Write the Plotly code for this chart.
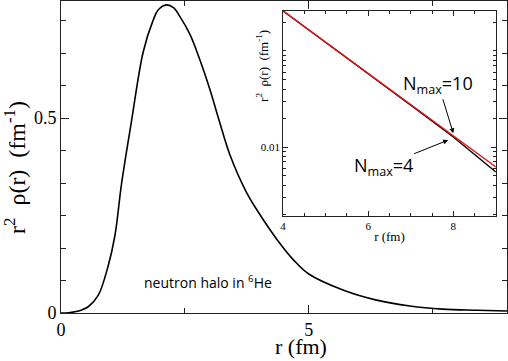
import numpy as np
import plotly.graph_objects as go

# ── main curve: r^2 rho(r) of the neutron halo ──────────────
r_main = [0.0, 0.15, 0.28, 0.42, 0.55, 0.75, 0.95, 1.09, 1.22, 1.42, 1.66, 1.86,
          1.96, 2.13, 2.27, 2.4, 2.6, 2.8, 3.0, 3.2, 3.41, 3.74, 4.0, 4.35, 4.7,
          5.0, 5.69, 6.37, 7.04, 7.7, 8.4, 9.0]
rho_main = [0.0, 0.0005, 0.003, 0.008, 0.016, 0.045, 0.12, 0.2, 0.33, 0.49,
            0.67, 0.751, 0.777, 0.79, 0.783, 0.76, 0.715, 0.65, 0.575, 0.49,
            0.405, 0.31, 0.255, 0.19, 0.135, 0.10, 0.059, 0.033, 0.018, 0.010,
            0.007, 0.005]

# ── inset: tail on log scale for two Nmax ───────────────────
r_tail = [4, 5, 6, 7, 8, 9]
rho_n10 = [0.2607, 0.1235, 0.0584, 0.0276, 0.0131, 0.00619]
rho_n4 = [0.2607, 0.1235, 0.0584, 0.0272, 0.0127, 0.00549]

serif = "Liberation Serif"
sans = "Open Sans"
nb = "\u00a0"
ytitle = f"r<sup>2</sup>{nb}{nb}ρ(r){nb}{nb}(fm<sup>-1</sup>)"

fig = go.Figure()
fig.add_trace(go.Scatter(x=r_main, y=rho_main, mode="lines", line_shape="spline",
                         line=dict(color="black", width=1.6), xaxis="x", yaxis="y"))
fig.add_trace(go.Scatter(x=r_tail, y=rho_n4, mode="lines",
                         line=dict(color="black", width=1.4), xaxis="x2", yaxis="y2"))
fig.add_trace(go.Scatter(x=r_tail, y=rho_n10, mode="lines",
                         line=dict(color="#e8141a", width=1.4), xaxis="x2", yaxis="y2"))

ax_common = dict(showline=True, linecolor="#222", linewidth=1, mirror="allticks",
                 ticks="inside", tickcolor="#222", showgrid=False, zeroline=False,
                 automargin=False)

minor_log = [m * 10.0 ** e for e in (-3, -2, -1) for m in range(2, 11)]

fig.update_layout(
    width=508, height=361,
    margin=dict(l=61, r=1, t=1, b=48),
    paper_bgcolor="white", plot_bgcolor="white",
    showlegend=False,
    font=dict(family=serif, color="black"),
    xaxis=dict(ax_common, range=[0, 9], dtick=5, ticklen=8,
               minor=dict(dtick=2.5, ticklen=5, ticks="inside", tickcolor="#222"),
               tickfont=dict(size=18)),
    yaxis=dict(ax_common, range=[0, 0.8], tickvals=[0, 0.5], ticklen=8,
               minor=dict(dtick=0.5 / 6, ticklen=5, ticks="inside", tickcolor="#222"),
               tickfont=dict(size=18)),
    xaxis2=dict(ax_common, domain=[0.498, 0.975], anchor="y2", range=[4, 9],
                tickvals=[4, 6, 8], ticklen=5,
                minor=dict(dtick=0.5, ticklen=3, ticks="inside", tickcolor="#222"),
                tickfont=dict(size=11),
                title=dict(text="r (fm)", font=dict(size=13), standoff=0)),
    yaxis2=dict(ax_common, domain=[0.311, 0.968], anchor="x2", type="log",
                range=[-2.718, -0.584], tickvals=[0.01], ticktext=["0.01"],
                ticklen=5, minor=dict(tickvals=minor_log, ticklen=3, ticks="inside",
                                      tickcolor="#222"),
                tickfont=dict(size=11)),
)

# axis titles as annotations so they sit where the original has them
fig.add_annotation(x=-0.103, y=0.465, xref="paper", yref="paper", text=ytitle,
                   textangle=-90, showarrow=False, xanchor="center", yanchor="middle",
                   font=dict(size=24))
fig.add_annotation(x=0.538, y=-0.106, xref="paper", yref="paper", text="r (fm)",
                   showarrow=False, xanchor="center", yanchor="middle",
                   font=dict(size=22))
fig.add_annotation(x=0.4507, y=0.792, xref="paper", yref="paper", text=ytitle,
                   textangle=-90, showarrow=False, xanchor="center", yanchor="middle",
                   font=dict(size=13))

fig.add_annotation(x=2.96, y=0.08, xref="x", yref="y", showarrow=False,
                   text="neutron halo in <sup>6</sup>He",
                   font=dict(family=sans, size=14, color="black"))
fig.add_annotation(x=8.0, y=np.log10(0.0139), xref="x2", yref="y2",
                   text="N<sub>max</sub>=10", showarrow=True, ax=-15, ay=-49,
                   arrowhead=2, arrowsize=1, arrowwidth=1, arrowcolor="black",
                   font=dict(family=sans, size=18, color="black"))
fig.add_annotation(x=7.88, y=np.log10(0.0118), xref="x2", yref="y2",
                   text="N<sub>max</sub>=4", showarrow=True, ax=-65, ay=26,
                   arrowhead=2, arrowsize=1, arrowwidth=1, arrowcolor="black",
                   font=dict(family=sans, size=18, color="black"))

# page body has a default 8px margin; drop it so the figure sits at the corner
fig.write_html("out.html", config={"displayModeBar": False},
               post_script="document.body.style.margin='0';")
